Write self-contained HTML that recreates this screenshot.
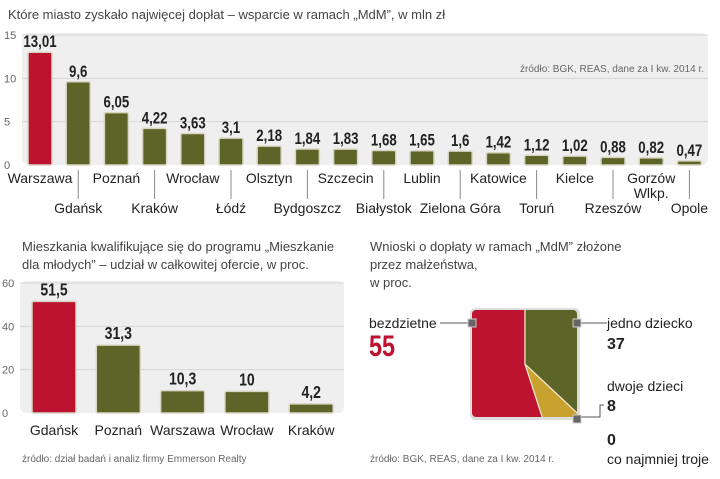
<!DOCTYPE html>
<html><head><meta charset="utf-8"><style>
body{margin:0;width:720px;height:474px;background:#fff;overflow:hidden;font-family:"Liberation Sans",sans-serif;}
svg text{font-family:"Liberation Sans",sans-serif;}
</style></head><body>
<svg width="720" height="474" viewBox="0 0 720 474">
<g id="top"></g>
<g id="bl"></g>
<g id="pie"></g>
</svg>
<script>
const topCats=["Warszawa","Gdańsk","Poznań","Kraków","Wrocław","Łódź","Olsztyn","Bydgoszcz","Szczecin","Białystok","Lublin","Zielona Góra","Katowice","Toruń","Kielce","Rzeszów","Gorzów|Wlkp.","Opole"];
const topVals=[13.01,9.6,6.05,4.22,3.63,3.1,2.18,1.84,1.83,1.68,1.65,1.6,1.42,1.12,1.02,0.88,0.82,0.47];
const topLabels=["13,01","9,6","6,05","4,22","3,63","3,1","2,18","1,84","1,83","1,68","1,65","1,6","1,42","1,12","1,02","0,88","0,82","0,47"];
const topTicks=[0,5,10,15];
const blCats=["Gdańsk","Poznań","Warszawa","Wrocław","Kraków"];
const blVals=[51.5,31.3,10.3,10,4.2];
const blLabels=["51,5","31,3","10,3","10","4,2"];
const blTicks=[0,20,40,60];
const pieCats=["bezdzietne","dwoje dzieci","jedno dziecko"];
const pieVals=[55,8,37];

const NS="http://www.w3.org/2000/svg";
function mk(parent,tag,attrs,txt){const e=document.createElementNS(NS,tag);for(const k in attrs)e.setAttribute(k,attrs[k]);if(txt!==undefined)e.textContent=txt;parent.appendChild(e);return e;}
const RED="#bd1330",OL="#5d6428",YE="#c9a12e";

// TOP CHART
(function(){
const g=document.getElementById('top');
let t=mk(g,'text',{x:8,y:19,'font-size':13,fill:'#444'},"Które miasto zyskało najwięcej dopłat – wsparcie w ramach „MdM”, w mln zł");

const x0=22,x1=708,yb=165,yt=35;
const y=v=>yb-(v/15)*(yb-yt);
let bg=mk(g,'rect',{x:x0,y:yt-2,width:x1-x0,height:yb-yt+2,rx:6,fill:'#efefef'});

topTicks.forEach(v=>{
 if(v>0){let l=mk(g,'line',{x1:x0,x2:x1,y1:y(v),y2:y(v),stroke:'#d6d6d6'});}
 let tx=mk(g,'text',{x:4,y:y(v)+4,'font-size':11,fill:'#666'},String(v));
 
});
let s=mk(g,'text',{x:704,y:72,'font-size':10,fill:'#666','text-anchor':'end'},"źródło: BGK, REAS, dane za I kw. 2014 r.");

const step=38.2,bw=24;
topCats.forEach((c,i)=>{
 const cx=40+i*step;const h=yb-y(topVals[i]);
 let r=mk(g,'rect',{x:cx-bw/2,y:y(topVals[i]),width:bw,height:Math.max(h,1.5),fill:i==0?RED:OL,stroke:'#d9d6c4','stroke-width':1.5,rx:1.5});
 
 let v=mk(g,'text',{x:cx,y:y(topVals[i])-5,'font-size':17,'font-weight':'bold',fill:'#222','text-anchor':'middle',transform:`translate(${cx} 0) scale(0.78 1) translate(${-cx} 0)`},topLabels[i]);
 
 const odd=i%2==1;const ly=odd?213:183;
 if(odd){let l=mk(g,'line',{x1:cx,x2:cx,y1:170,y2:199,stroke:'#888'});}
 const parts=c.split('|');
 parts.forEach((p,j)=>{let tx=mk(g,'text',{x:cx,y:ly+j*15,'font-size':14,fill:'#222','text-anchor':'middle'},p);
  });
});
})();

// BOTTOM LEFT
(function(){
const g=document.getElementById('bl');
["Mieszkania kwalifikujące się do programu „Mieszkanie","dla młodych” – udział w całkowitej ofercie, w proc."].forEach((l,i)=>{
 let t=mk(g,'text',{x:22,y:251+i*18,'font-size':13,fill:'#444'},l);});
const x0=20,x1=344,yb=413,yt=283;
const y=v=>yb-(v/60)*(yb-yt);
let bg=mk(g,'rect',{x:x0,y:yt-2,width:x1-x0,height:yb-yt+2,rx:6,fill:'#efefef'});

blTicks.forEach(v=>{
 if(v>0){let l=mk(g,'line',{x1:x0,x2:x1,y1:y(v),y2:y(v),stroke:'#d6d6d6'});}
 let tx=mk(g,'text',{x:2,y:y(v)+4,'font-size':11,fill:'#666'},String(v));
 
});
blCats.forEach((c,i)=>{
 const cx=54+i*64.3,bw=44;
 let r=mk(g,'rect',{x:cx-bw/2,y:y(blVals[i]),width:bw,height:yb-y(blVals[i]),fill:i==0?RED:OL,stroke:'#d9d6c4','stroke-width':1.5,rx:1.5});
 
 let v=mk(g,'text',{x:cx,y:y(blVals[i])-6,'font-size':18,'font-weight':'bold',fill:'#222','text-anchor':'middle',transform:`translate(${cx} 0) scale(0.78 1) translate(${-cx} 0)`},blLabels[i]);
 
 let tx=mk(g,'text',{x:cx,y:435,'font-size':14,fill:'#222','text-anchor':'middle'},c);
 
});
let s=mk(g,'text',{x:22,y:462,'font-size':10,fill:'#666'},"źródło: dział badań i analiz firmy Emmerson Realty");

})();

// PIE
(function(){
const g=document.getElementById('pie');
["Wnioski o dopłaty w ramach „MdM” złożone","przez małżeństwa,","w proc."].forEach((l,i)=>{
 let t=mk(g,'text',{x:370,y:251+i*18,'font-size':13,fill:'#444'},l);});
const cx=525,cy=364,R=120;
let sh=mk(g,'rect',{x:470,y:308,width:110,height:112,rx:5,fill:'#ddd'});
const defs=mk(g,'defs',{});const cp=mk(defs,'clipPath',{id:'sq'});mk(cp,'rect',{x:472,y:310,width:105,height:107,rx:4});
const gg=mk(g,'g',{'clip-path':'url(#sq)'});
const cols=[RED,YE,OL];const tot=pieVals.reduce((a,b)=>a+b,0);
let a=0;
pieVals.forEach((v,i)=>{
 const a1=a+v/tot*2*Math.PI;
 const p=ang=>[cx-R*Math.sin(ang),cy-R*Math.cos(ang)];
 const [sx,sy]=p(a),[ex,ey]=p(a1);
 const large=(a1-a)>Math.PI?1:0;
 let path=mk(gg,'path',{d:`M${cx},${cy} L${sx},${sy} A${R},${R} 0 ${large} 0 ${ex},${ey} Z`,fill:cols[i],stroke:'#f3e9d0','stroke-width':1.2});
 
 a=a1;
});
const L=(x1,y1,x2,y2,n)=>{let l=mk(g,'polyline',{points:`${x1},${y1} ${x2},${y2}`,stroke:'#555',fill:'none'});};
L(440,323,472,323,'leader-bezdzietne');L(577,323,607,323,'leader-jedno');
let pl=mk(g,'polyline',{points:"577,417 600,417 600,405 604,405",stroke:'#555',fill:'none'});
[[472,323],[577,323],[577,419]].forEach(([x,y])=>{let r=mk(g,'rect',{x:x-4,y:y-4,width:8,height:8,fill:'#666',stroke:'#ccc'});});
const T=(x,y,s,txt,w,fill,n)=>{let t=mk(g,'text',{x,y,'font-size':s,'font-weight':w,fill},txt);};
T(369,328,14,"bezdzietne","normal","#222","label-bezdzietne");
let v=mk(g,'text',{x:369,y:356,'font-size':30,'font-weight':'bold',fill:RED,transform:'translate(369 0) scale(0.78 1) translate(-369 0)'},"55");
T(607,328,14,"jedno dziecko","normal","#222","label-jedno");
T(607,349,16,"37","bold","#222","value-jedno");
T(607,391,14,"dwoje dzieci","normal","#222","label-dwoje");
T(607,411,16,"8","bold","#222","value-dwoje");
T(607,445,16,"0","bold","#222","value-troje");
T(607,464,14,"co najmniej troje","normal","#222","label-troje");
T(370,462,10,"źródło: BGK, REAS, dane za I kw. 2014 r.","normal","#666","source-note");
})();
</script>
</body></html>
